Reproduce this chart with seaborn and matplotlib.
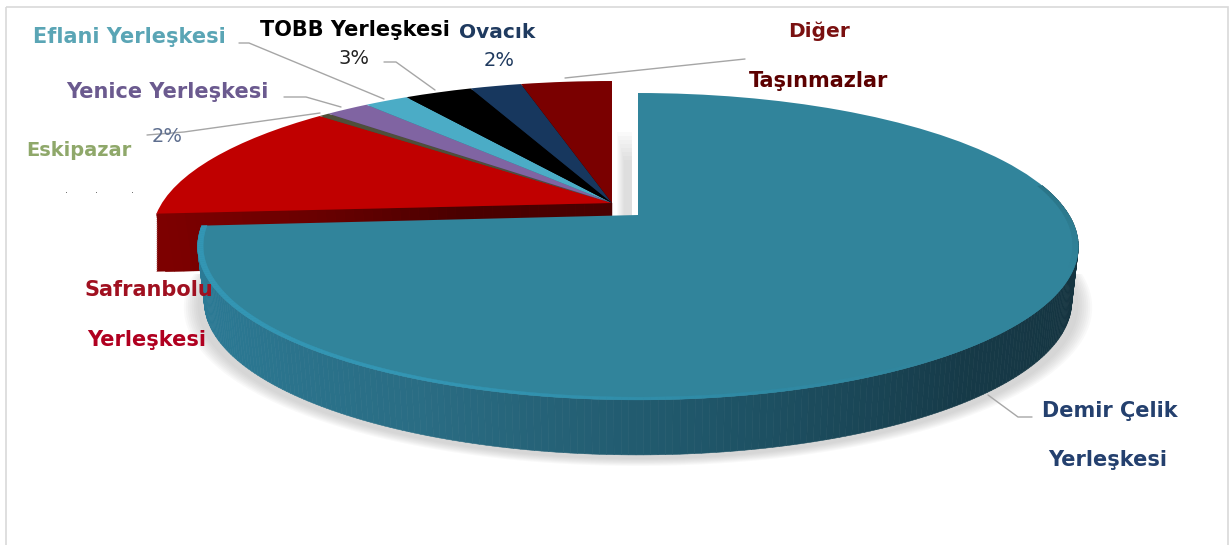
import matplotlib
matplotlib.use("Agg")
import matplotlib.pyplot as plt
import matplotlib.transforms as mtransforms
import numpy as np
import seaborn as sns
from matplotlib.collections import PolyCollection
from matplotlib.patches import Rectangle, Wedge

# slice shares, clockwise from 12 o'clock
campuses = ["Demir Çelik Yerleşkesi", "Safranbolu Yerleşkesi", "Eskipazar", "Yenice Yerleşkesi",
            "Eflani Yerleşkesi", "TOBB Yerleşkesi", "Ovacık", "Diğer Taşınmazlar"]
shares = [73.9, 12.9, 0.45, 1.9, 1.9, 2.9, 2.2, 3.9]
top_colors = ["#31849b", "#c00000", "#4f4f3a", "#8064a2", "#4bacc6", "#000000", "#17375e", "#7a0000"]
side_colors = ["#1c4c5c", "#7d0000", "#45452f", "#4d3b66", "#2a6f80", "#000000", "#0f1f33", "#0d0000"]

# (text, x, y, colour, size)
labels = [
    ("Eflani Yerleşkesi", 129, 37, "#5aa5b5", 15),
    ("TOBB Yerleşkesi", 355, 30, "#000000", 15),
    ("3%", 354, 58, "#222222", 14),
    ("Ovacık", 497, 33, "#1f3a5f", 14.5),
    ("2%", 499, 60, "#1f3a5f", 14),
    ("Diğer", 819, 31, "#7a1010", 14.5),
    ("Taşınmazlar", 819, 81, "#5c0000", 15),
    ("Yenice Yerleşkesi", 167, 92, "#6b5a8f", 15),
    ("2%", 167, 137, "#5f6f8f", 14),
    ("Eskipazar", 79, 150, "#8fa86a", 14),
    ("Safranbolu", 149, 290, "#a01020", 15),
    ("Yerleşkesi", 147, 340, "#b00020", 15),
    ("Demir Çelik", 1110, 411, "#24406e", 15),
    ("Yerleşkesi", 1108, 460, "#24406e", 15),
]

leaders = [
    ([988, 1018, 1032], [395, 417, 417]),
    ([565, 745], [78, 59]),
    ([239, 249, 384], [43, 43, 99]),
    ([384, 396, 435], [62, 62, 90]),
    ([284, 306, 341], [97, 97, 107]),
    ([147, 184, 320], [135, 132, 113]),
]

TILT = 0.205
HEIGHT = 147
DEPTH = 55
MAIN = (638, 215, 431)
GROUP = (612, 203, 450)


def project(x, y, place):
    x0, y0, width = place
    w = 1 + TILT * y
    return x0 + width * x / w, y0 - HEIGHT * y / w


class Perspective(mtransforms.Transform):
    input_dims = 2
    output_dims = 2
    is_separable = False

    def __init__(self, place, shift=0):
        super().__init__()
        self.place = place
        self.shift = shift

    def transform_non_affine(self, values):
        values = np.asarray(values, dtype=float)
        px, py = project(values[:, 0], values[:, 1], self.place)
        return np.column_stack([px, py + self.shift])


def rim(theta1, theta2, r=1.0, n=160):
    t = np.radians(np.linspace(theta1, theta2, n))
    return r * np.cos(t), r * np.sin(t)


sns.set_theme(style="white")
fig = plt.figure(figsize=(12.31, 5.45), dpi=100)
ax = fig.add_axes([0, 0, 1, 1])

wedges, _ = ax.pie(shares, colors=top_colors, startangle=90, counterclock=False,
                   wedgeprops={"linewidth": 0})
ax.set_aspect("auto")
ax.set_xlim(0, 1231)
ax.set_ylim(545, 0)
ax.axis("off")

ax.add_patch(Rectangle((6, 7), 1222, 560, fill=False, edgecolor="#d9d9d9", linewidth=1.2, zorder=0))

# soft shadow under the big slice
for grow in np.linspace(1.03, 1.0, 8):
    sx, sy = rim(180, 360, grow)
    px, py = project(sx, sy, MAIN)
    ax.fill(px, py + DEPTH + 4, color="#909090", alpha=0.05, linewidth=0, zorder=1)

# shadow in the gap between the parts
for inset in range(0, 8):
    ax.add_patch(Rectangle((617 + inset, 132 + 4 * inset), 15 - inset, 84, color="#a8a8a8",
                           alpha=0.05, linewidth=0, zorder=1))

# body of the pulled out slices, drawn back to front
main_wedge = wedges[0]
for wedge, side in reversed(list(zip(wedges[1:], side_colors[1:]))):
    wedge.set_transform(Perspective(GROUP) + ax.transData)
    wedge.set_zorder(4)
    for shift in np.arange(2, DEPTH + 4, 2):
        ax.add_patch(Wedge((0, 0), 1, wedge.theta1, wedge.theta2, color=side, linewidth=0, zorder=3,
                           transform=Perspective(GROUP, shift) + ax.transData))

# lit cut face of the red slice
red = wedges[1]
cx, cy = rim(red.theta2, red.theta2, n=1)
fracs = np.linspace(0.0, 1.0, 50)
band = sns.blend_palette(["#7d0000", "#6a0000", "#4a0000", "#4a0000"], len(fracs) - 1)
polys = []
for a, b in zip(fracs[:-1], fracs[1:]):
    xa, ya = project(cx * a, cy * a, GROUP)
    xb, yb = project(cx * b, cy * b, GROUP)
    polys.append([(xb[0], yb[0]), (xa[0], ya[0]),
                  (xa[0] + 9 * a, ya[0] + DEPTH + 3), (xb[0] + 9 * b, yb[0] + DEPTH + 3)])
ax.add_collection(PolyCollection(polys, facecolors=band[::-1], edgecolors=band[::-1],
                                 linewidths=0.3, zorder=3.5))

# wall of the big slice, dark towards the right
theta = np.linspace(main_wedge.theta1 + 360, 372, 240) if main_wedge.theta1 < 0 else np.linspace(main_wedge.theta1, 372, 240)
tx, ty = rim(theta[0], theta[-1], n=len(theta))
wx, wy = project(tx, ty, MAIN)
low_x = MAIN[0] + (wx - MAIN[0]) * 0.985
wall = sns.blend_palette(["#2b7d99", "#2b7791", "#2a6c83", "#1f5568", "#163a48", "#153440", "#153440"], len(theta) - 1)
polys = [[(wx[i], wy[i]), (wx[i + 1], wy[i + 1]), (low_x[i + 1], wy[i + 1] + DEPTH), (low_x[i], wy[i] + DEPTH)]
         for i in range(len(theta) - 1)]
ax.add_collection(PolyCollection(polys, facecolors=wall, edgecolors=wall, linewidths=0.4, zorder=5))

main_wedge.set_transform(Perspective(MAIN) + ax.transData)
main_wedge.set_zorder(6)

# bright bevel on the front edge of the big slice
ox, oy = rim(theta[0], theta[-1], 1.0, len(theta))
ix, iy = rim(theta[0], theta[-1], 0.988, len(theta))
ox, oy = project(ox, oy, MAIN)
ix, iy = project(ix, iy, MAIN)
glow = sns.blend_palette(["#3396b4", "#3396b4", "#3396b4", "#2f8ba6", "#31849b", "#31849b", "#2a7487"], len(theta) - 1)
polys = [[(ox[i], oy[i]), (ox[i + 1], oy[i + 1]), (ix[i + 1], iy[i + 1]), (ix[i], iy[i])]
         for i in range(len(theta) - 1)]
ax.add_collection(PolyCollection(polys, facecolors=glow, edgecolors=glow, linewidths=0.3, zorder=7))

for xs, ys in leaders:
    ax.plot(xs, ys, color="#a6a6a6", linewidth=1.0, zorder=2)

for text, x, y, color, size in labels:
    ax.text(x, y, text, color=color, fontsize=size, fontweight="bold" if "%" not in text else "normal",
            ha="center", va="center", family="DejaVu Sans", zorder=8)

for x in [66, 96, 132]:
    ax.text(x, 190, ".", color="#555555", fontsize=7, ha="center", va="center", zorder=8)

fig.savefig("out.png", dpi=100, facecolor="white")
